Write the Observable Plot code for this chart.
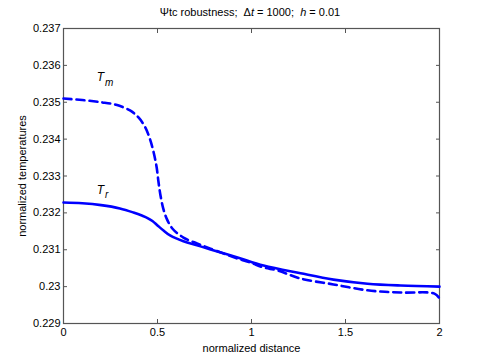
<!DOCTYPE html>
<html><head><meta charset="utf-8">
<script src="https://cdn.jsdelivr.net/npm/d3@7"></script>
<script src="https://cdn.jsdelivr.net/npm/@observablehq/plot@0.6"></script>
<style>body{margin:0;background:#fff;} svg{font-family:"Liberation Sans",Arial,sans-serif;}</style>
</head><body><div id="chart"></div>
<script>
const trX = [0,0.1,0.2,0.3,0.372,0.42,0.447,0.473,0.5,0.532,0.569,0.638,0.71,0.782,0.926,1.064,1.261,1.436,1.617,1.793,2.0];
const trY = [0.23228,0.23226,0.23221,0.23212,0.23201,0.23192,0.23186,0.23178,0.23166,0.23152,0.23138,0.23123,0.23112,0.23101,0.23079,0.23057,0.23036,0.23019,0.23008,0.23003,0.23000];
const tmX = [0,0.1,0.2,0.28,0.356,0.4,0.435,0.46,0.479,0.495,0.505,0.515,0.53,0.55,0.58,0.638,0.71,0.782,0.926,0.995,1.064,1.138,1.261,1.436,1.617,1.793,1.973,2.0];
const tmY = [0.23510,0.23506,0.23500,0.23493,0.23477,0.23458,0.23432,0.23400,0.23365,0.23325,0.23285,0.23250,0.23213,0.23183,0.23157,0.23133,0.23117,0.23103,0.23076,0.23065,0.23052,0.23044,0.23022,0.23006,0.22990,0.22984,0.22981,0.22968];
const xTicks = [0,0.5,1,1.5,2];
const yTicks = [0.229,0.23,0.231,0.232,0.233,0.234,0.235,0.236,0.237];
const labels = [{x:0.2, y:0.23567, s:"m"},{x:0.2, y:0.23262, s:"r"}];

const tr = trX.map((x,i)=>({x, y:trY[i]}));
const tm = tmX.map((x,i)=>({x, y:tmY[i]}));
const fmt = d3.format("~g");
const axisColor = "#555";

const plot = Plot.plot({
  width: 485, height: 364,
  marginLeft: 63, marginRight: 46, marginTop: 28, marginBottom: 41,
  style: {fontSize: "11px", fontFamily: "'Liberation Sans', Arial, sans-serif", color: "#000"},
  x: {domain: [0,2]},
  y: {domain: [0.229,0.237]},
  marks: [
    Plot.axisX({ticks: xTicks, tickFormat: fmt, tickSize: -4, tickPadding: 9, stroke: axisColor, label: "normalized distance", labelAnchor: "center", labelArrow: "none", labelOffset: 28, fontSize: 11}),
    Plot.axisX({anchor: "top", ticks: xTicks, tickFormat: null, tickSize: -4, stroke: axisColor, label: null, text: null}),
    Plot.axisY({ticks: yTicks, tickFormat: fmt, tickSize: -4, tickPadding: 7, stroke: axisColor, label: "normalized temperatures", labelAnchor: "center", labelArrow: "none", labelOffset: 45, fontSize: 11}),
    Plot.axisY({anchor: "right", ticks: yTicks, tickFormat: null, tickSize: -4, stroke: axisColor, label: null, text: null}),
    Plot.frame({stroke: axisColor, strokeWidth: 1.2}),
    Plot.line(tr, {x: "x", y: "y", stroke: "#0000ff", strokeWidth: 2.6, curve: "catmull-rom"}),
    Plot.line(tm, {x: "x", y: "y", stroke: "#0000ff", strokeWidth: 2.6, strokeDasharray: "8,5", curve: "catmull-rom"}),
    Plot.text(labels, {x: "x", y: "y", text: d => "T", fontStyle: "italic", fontSize: 12, textAnchor: "end", dx: 3}),
    Plot.text(labels, {x: "x", y: "y", text: "s", fontStyle: "italic", fontSize: 10, textAnchor: "start", dx: 4, dy: 5})
  ]
});
const svg = d3.select(plot);
const t = svg.append("text").attr("x", 250).attr("y", 16).attr("text-anchor", "middle").attr("font-size", 11).attr("fill", "#000");
t.append("tspan").text("\u03A8tc robustness;  \u0394");
t.append("tspan").attr("font-style", "italic").text("t");
t.append("tspan").text(" = 1000;  ");
t.append("tspan").attr("font-style", "italic").text("h");
t.append("tspan").text(" = 0.01");
t.attr("xml:space", "preserve").style("white-space", "pre");
document.getElementById("chart").appendChild(plot);
</script></body></html>
